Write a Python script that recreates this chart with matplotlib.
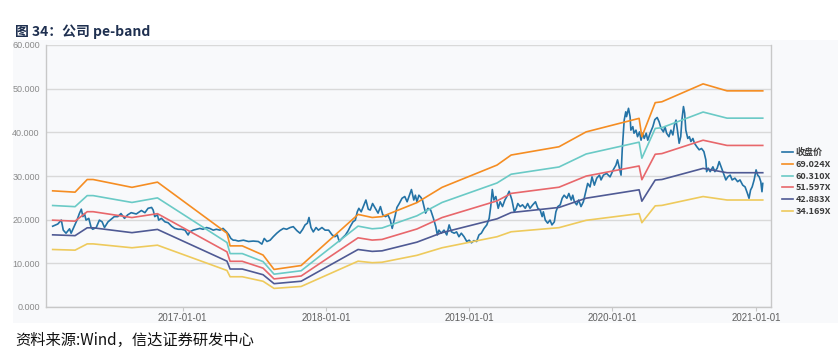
import matplotlib
matplotlib.use("Agg")
import matplotlib.pyplot as plt
import matplotlib.dates as mdates
import pandas as pd
from matplotlib.patches import Rectangle
from matplotlib.ticker import FormatStrFormatter

CJK = ["Noto Sans CJK SC", "DejaVu Sans"]
PANEL = "#f8f9fb"
GRID = "#d9d9d9"

BASE = pd.Timestamp("2016-01-01")

# ── EPS path behind the bands (days since BASE) ──────────────────────────────
eps_day = [35, 92, 123, 138, 237, 302,
           479, 487, 518, 571, 599, 668,
           813, 849, 874, 963, 1027,
           1167, 1203, 1325, 1394,
           1529, 1536, 1570, 1587,
           1692, 1753, 1844]
eps_val = [0.3854, 0.3810, 0.4230, 0.4230, 0.3970, 0.4143,
           0.2448, 0.2028, 0.2028, 0.1724, 0.1246, 0.1376,
           0.3071, 0.2970, 0.2999, 0.3463, 0.3970,
           0.4709, 0.5042, 0.5317, 0.5810,
           0.6259, 0.5650, 0.6780, 0.6809,
           0.7403, 0.7171, 0.7171]

pe_multiples = [69.024, 60.310, 51.597, 42.883, 34.169]
band_labels = ["69.024X", "60.310X", "51.597X", "42.883X", "34.169X"]
band_colors = ["#f58d22", "#6acac6", "#e8676b", "#4f5a94", "#eeca5c"]

# ── Close price (days since BASE) ────────────────────────────────────────────
close_day = [
    35, 48, 57, 62, 69, 78, 82, 90, 97, 103, 108, 112, 116, 120, 127, 133,
    137, 146, 154, 161, 167, 176, 184, 192, 201, 209, 218, 226, 235, 248,
    261, 270, 278, 287, 291, 295, 302, 305, 312, 321, 329, 338, 346, 355,
    363, 372, 380, 384, 393, 401, 410, 418, 427, 435, 444, 452, 461, 469,
    478, 484, 489, 495, 500, 508, 521, 534, 546, 559, 568, 574, 581, 589,
    597, 606, 614, 623, 631, 640, 648, 657, 665, 672, 678, 684, 688, 693,
    699, 706, 712, 721, 729, 738, 747, 754, 760, 765, 772, 781, 788, 793,
    800, 806, 811, 815, 821, 828, 833, 839, 844, 850, 857, 864, 870, 876,
    883, 889, 895, 900, 904, 908, 912, 918, 925, 932, 938, 944, 949, 955,
    959, 963, 968, 973, 977, 981, 985, 991, 998, 1005, 1011, 1015, 1019,
    1025, 1032, 1039, 1045, 1051, 1058, 1064, 1070, 1076, 1083, 1090, 1096,
    1102, 1108, 1115, 1121, 1127, 1134, 1141, 1147, 1151, 1155, 1159, 1164,
    1170, 1175, 1181, 1187, 1192, 1198, 1205, 1211, 1216, 1220, 1226, 1232,
    1239, 1245, 1251, 1258, 1265, 1271, 1277, 1282, 1285, 1290, 1296, 1302,
    1307, 1313, 1317, 1322, 1328, 1333, 1338, 1345, 1350, 1356, 1360, 1364,
    1370, 1375, 1381, 1387, 1392, 1398, 1404, 1409, 1415, 1421, 1428, 1432,
    1438, 1446, 1455, 1463, 1470, 1474, 1479, 1483, 1486, 1489, 1491, 1495,
    1497, 1502, 1506, 1508, 1513, 1516, 1521, 1525, 1530, 1534, 1538, 1542,
    1547, 1551, 1557, 1564, 1569, 1575, 1580, 1585, 1591, 1595, 1599, 1605,
    1610, 1615, 1619, 1623, 1626, 1631, 1635, 1638, 1642, 1645, 1648, 1653,
    1657, 1661, 1666, 1670, 1676, 1682, 1688, 1694, 1699, 1701, 1705, 1710,
    1717, 1722, 1728, 1733, 1738, 1744, 1750, 1755, 1761, 1766, 1773, 1780,
    1786, 1793, 1799, 1805, 1809, 1813, 1817, 1822, 1827, 1831, 1835, 1839,
    1842, 1844]
close_px = [
    18.5, 19.0, 19.9, 17.6, 16.9, 17.9, 16.9, 18.5, 19.9, 21.4, 22.4, 20.7, 21.4, 19.9, 20.3, 18.2,
    17.8, 18.2, 19.9, 19.5, 18.2, 19.5, 20.1, 20.7, 20.7, 21.4, 20.3, 21.1, 21.6, 21.3,
    22.1, 21.6, 22.6, 22.8, 22.2, 20.7, 21.1, 19.9, 20.3, 19.5, 19.3, 18.5, 18.0, 17.8,
    17.8, 17.6, 16.5, 17.2, 17.6, 17.8, 18.0, 17.8, 18.2, 18.0, 17.6, 17.8, 17.6, 18.0,
    17.2, 16.5, 15.7, 15.3, 15.3, 15.1, 15.3, 15.0, 15.1, 15.0, 14.4, 15.7, 15.0, 15.3,
    16.1, 16.9, 17.5, 18.0, 17.8, 18.2, 18.4, 17.5, 16.9, 17.8, 18.8, 19.2, 20.5, 18.2,
    17.2, 18.2, 17.6, 18.2, 17.6, 17.6, 16.5, 16.1, 16.5, 15.0, 15.7, 16.5, 17.5, 18.4,
    19.5, 19.9, 21.8, 22.6, 21.8, 23.4, 24.5, 22.4, 22.2, 23.7, 22.6, 21.5, 23.0, 21.1,
    20.7, 21.1, 19.9, 18.0, 19.5, 21.1, 22.8, 23.7, 24.9, 25.3, 24.1, 25.6, 26.9, 24.5,
    25.6, 24.1, 25.6, 25.1, 24.5, 23.0, 21.5, 22.6, 22.2, 20.3, 18.4, 16.5, 17.6,
    16.9, 17.6, 16.5, 18.8, 17.2, 16.9, 17.2, 16.1, 16.9, 16.1, 15.0, 15.3,
    14.7, 15.2, 15.0, 16.5, 16.9, 18.0, 18.8, 20.3, 23.0, 26.9, 24.5, 25.3,
    22.6, 24.1, 23.0, 24.5, 25.3, 26.5, 24.5, 21.8, 22.6, 23.7, 23.0, 23.4,
    22.6, 23.7, 22.6, 23.4, 24.1, 22.6, 22.2, 20.7, 21.8, 19.9, 19.2, 19.9,
    18.8, 19.5, 21.8, 23.0, 23.4, 24.9, 25.6, 24.9, 26.0, 24.5, 25.6, 24.1,
    23.4, 24.5, 23.0, 24.1, 26.0, 28.3, 27.5, 29.8, 27.9, 29.5, 30.2, 29.1,
    30.2, 30.6, 29.8, 31.4, 32.5, 33.7, 31.8, 30.2, 36.0, 40.1, 42.8, 44.7,
    43.6, 45.5, 43.6, 40.5, 41.3, 39.8, 40.5, 39.0, 40.1, 38.2, 39.8, 38.6,
    39.8, 38.2, 39.8, 41.3, 42.9, 43.4, 42.4, 40.9, 40.1, 41.3, 39.8, 39.0,
    40.5, 39.4, 41.7, 42.8, 40.9, 37.5, 39.0, 42.8, 45.9, 44.4, 40.5, 38.6,
    39.0, 37.9, 38.6, 37.5, 36.7, 36.0, 36.3, 35.6, 33.7, 31.0, 31.8, 31.0,
    32.1, 31.0, 31.8, 33.3, 32.1, 30.6, 29.1, 29.8, 30.2, 29.1, 29.5, 28.7,
    29.1, 27.9, 27.5, 26.0, 24.9, 26.8, 27.5, 29.1, 31.4, 30.2, 29.8, 28.7,
    26.4, 28.3]

year_ticks = ["2017-01-01", "2018-01-01", "2019-01-01", "2020-01-01", "2021-01-01"]
y_ticks = [0, 10, 20, 30, 40, 50, 60]


def to_dates(days):
    return BASE + pd.to_timedelta(days, unit="D")


fig = plt.figure(figsize=(8.4, 3.5), dpi=100, facecolor="white")

# light report panel behind the chart
fig.patches.append(Rectangle((13 / 840, 27 / 350), 825 / 840, 283 / 350,
                             transform=fig.transFigure, facecolor=PANEL,
                             edgecolor="none", zorder=-10))

ax = fig.add_axes([46 / 840, 43 / 350, 725 / 840, 262 / 350])
ax.set_facecolor(PANEL)

close_dates = to_dates(close_day)
eps_dates = to_dates(eps_day)

ax.plot(close_dates, close_px, color="#2473a6", lw=1.2, label="收盘价", zorder=3)
for pe, lab, col in zip(pe_multiples, band_labels, band_colors):
    ax.plot(eps_dates, [pe * e for e in eps_val], color=col, lw=1.2,
            label=lab, zorder=3)

ax.set_ylim(0, 60)
ax.set_yticks(y_ticks)
ax.yaxis.set_major_formatter(FormatStrFormatter("%.3f"))
ax.set_xlim(BASE + pd.Timedelta(days=18), BASE + pd.Timedelta(days=1865))
ax.set_xticks(pd.to_datetime(year_ticks))
ax.xaxis.set_major_formatter(mdates.DateFormatter("%Y-%m-%d"))

ax.grid(axis="y", color=GRID, lw=1.0, zorder=1)
ax.set_axisbelow(True)
for side in ["left", "bottom", "right"]:
    ax.spines[side].set_color("#c8c8c8")
    ax.spines[side].set_linewidth(1.0)
ax.spines["top"].set_visible(False)

ax.tick_params(axis="y", length=0, pad=4.5, labelsize=6.5, labelcolor="#8a8a8a")
ax.tick_params(axis="x", length=3, width=0.8, color="#c8c8c8", pad=1.5,
               labelsize=7, labelcolor="#606060")
for t in ax.get_yticklabels():
    t.set_family("Liberation Sans")
for t in ax.get_xticklabels():
    t.set_family(["Liberation Sans Narrow", "Liberation Sans"])

leg = fig.legend(loc="center left", bbox_to_anchor=(782 / 840, 168 / 350),
                 frameon=False, handlelength=1.2, handletextpad=0.35,
                 labelspacing=0.3, borderpad=0, borderaxespad=0,
                 prop={"family": CJK, "size": 6.5, "weight": "bold"})
for txt in leg.get_texts():
    txt.set_color("#3a3a3a")

fig.text(15 / 840, 1 - 36 / 350, "图 34：公司 pe-band", family=CJK,
         fontsize=10, fontweight="bold", color="#1f3050", va="baseline")
fig.text(15 / 840, 10 / 350, "资料来源:Wind，信达证券研发中心", family=CJK,
         fontsize=11, color="#111111", va="center")

fig.savefig("out.png", dpi=100, facecolor="white")
